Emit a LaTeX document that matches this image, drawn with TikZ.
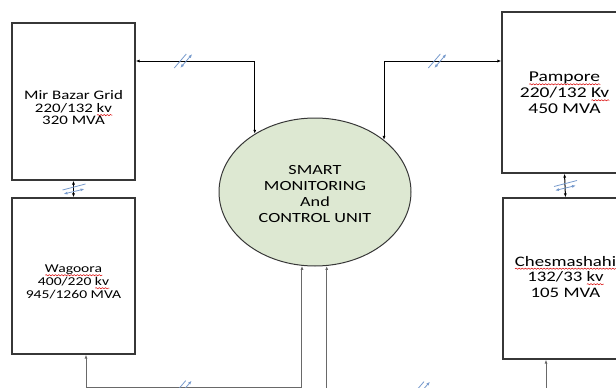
\documentclass[tikz,border=0pt]{standalone}
\usepackage{graphicx}
\usepackage{fontspec}
\setmainfont{Carlito}
\usetikzlibrary{shapes.geometric,arrows.meta,decorations.pathmorphing}

\definecolor{boxgray}{RGB}{55,55,55}
\definecolor{feedgray}{RGB}{105,105,105}
\definecolor{unitgreen}{RGB}{221,232,210}
\definecolor{breakblue}{RGB}{120,155,205}

% stretched block of centred lines: {xscale}{size}{skip}{lines}
\newcommand{\boxtext}[4]{\scalebox{#1}[1]{\fontsize{#2}{#3}\selectfont\begin{tabular}{@{}c@{}}#4\end{tabular}}}
% spell-check underline
\newsavebox{\sqbox}
\newcommand{\sq}[1]{\sbox{\sqbox}{#1}\rlap{\raisebox{-2.6pt}{\tikz[baseline=0pt, x=1pt, y=1pt]
    \draw[red!85!black, line width=0.45pt, decorate, decoration={snake, amplitude=0.6pt, segment length=2.4pt}]
    (0,0) -- (\wd\sqbox,0);}}\usebox{\sqbox}}

\begin{document}
\begin{tikzpicture}[
    x=1pt, y=-1pt,
    station/.style={draw=boxgray, line width=1.2pt, rectangle, minimum width=123pt, inner sep=0pt},
    unit/.style={draw=boxgray, line width=1pt, ellipse, fill=unitgreen, minimum width=192pt, minimum height=148pt, inner sep=0pt},
    link/.style={{Latex[length=4pt,width=3pt]}-{Latex[length=4pt,width=3pt]}, line width=1pt},
    feed/.style={link, draw=feedgray},
    brk/.pic={\draw[breakblue, line width=0.8pt] (-9,7) -- (3,-7) (-3,7) -- (9,-7);},
    brkflat/.pic={\draw[breakblue, line width=0.8pt] (-11,1) -- (12,-5) (-10,5) -- (11,0);}
    ]

    \useasboundingbox (0,0) rectangle (616,388);
    \clip (0,0) rectangle (616,388);

    \node[station, minimum height=157pt,
          label={[name=mirtext, yshift=-8pt]center:{\boxtext{1.3}{13}{12}{Mir Bazar Grid\\220/132 \sq{kv}\\320 MVA}}}]
          (mir) at (73.5,101.5) {};
    \node[station, minimum height=156pt,
          label={[name=wagtext, yshift=-7pt]center:{\boxtext{1.3}{12}{13}{\sq{Wagoora}\\400/220 \sq{kv}\\945/1260 MVA}}}]
          (wag) at (73.5,276) {};
    \node[station, minimum width=125pt, minimum height=161pt,
          label={[name=pamtext, yshift=-2pt]center:{\boxtext{1.3}{15}{16}{\sq{Pampore}\\220/132 \sq{Kv}\\450 MVA}}}]
          (pam) at (564.5,92.5) {};
    \node[station, minimum width=125pt, minimum height=161pt,
          label={[name=chestext]center:{\boxtext{1.3}{14.5}{15.5}{\sq{Chesmashahi}\\132/33 \sq{kv}\\105 MVA}}}]
          (ches) at (565.5,278.5) {};
    \node[unit,
          label={[name=smctext, yshift=-3pt]center:{\boxtext{1.3}{14}{16}{SMART\\MONITORING\\And\\CONTROL UNIT}}}]
          (smc) at (315,192) {};

    \draw[link] ([yshift=40.5]mir.east) -| pic[pos=0.2]{brk} (smc.136);
    \draw[link] (smc.37.4) |- pic[pos=0.727]{brk} ([yshift=31.5]pam.west);
    \draw[link] (mir.south) -- pic{brkflat} (wag.north);
    \draw[link] (pam.south) -- pic{brkflat} (ches.north);
    \draw[feed] ([xshift=12.5]wag.south) -- ++(0,33) -| pic[pos=0.224]{brk} (smc.260.7);
    \draw[feed] ([xshift=-19.5]ches.south) -- ++(0,29) -| pic[pos=0.285]{brk} (smc.279.3);

\end{tikzpicture}
\end{document}
